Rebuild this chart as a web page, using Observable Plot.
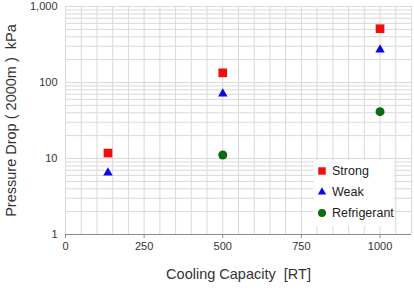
<!DOCTYPE html>
<html>
<head>
<meta charset="utf-8">
<script src="https://cdn.jsdelivr.net/npm/d3@7"></script>
<script src="https://cdn.jsdelivr.net/npm/@observablehq/plot@0.6"></script>
<style>
  html, body { margin: 0; padding: 0; background: #fff; }
  #chart { position: relative; width: 414px; height: 290px; font-family: "Liberation Sans", Arial, sans-serif; }
  #legend { position: absolute; left: 314px; top: 160px; width: 80px; height: 66px; background: #fff; font-size: 12.5px; color: #222; }
  #legend .row { position: absolute; left: 0; height: 16px; display: flex; align-items: center; }
  #legend svg { margin-left: 2px; margin-right: 4px; }
</style>
</head>
<body>
<div id="chart"><div id="legend"></div></div>
<script>
// Cooling capacity [RT] and pressure drop [kPa] per circuit
const capacity = [135, 500, 1000];
const strong = [11.8, 134, 510];
const weak = [6.5, 71, 270];
const refrigerant = [null, 11.1, 41.3];

const seriesNames = ["Strong", "Weak", "Refrigerant"];
const seriesValues = [strong, weak, refrigerant];
const seriesSymbols = ["square", "triangle", "circle"];
const seriesColors = ["#f20d0d", "#0a0ae6", "#0a6b14"];
const seriesSizes = [4.9, 3.5, 4.5];

const xTicks = [0, 250, 500, 750, 1000];
const yTicks = [1, 10, 100, 1000];

const rows = [];
seriesNames.forEach((name, i) => {
  capacity.forEach((c, j) => {
    const v = seriesValues[i][j];
    if (v != null) rows.push({series: name, capacity: c, drop: v});
  });
});

// Minor grid: every 50 RT, and 1..9 within each decade
const xGrid = d3.range(0, 1101, 50);
const yGrid = [];
for (let e = 0; e < 3; e++) for (let k = 1; k < 10; k++) yGrid.push(k * 10 ** e);
yGrid.push(1000);

const plot = Plot.plot({
  width: 414,
  height: 290,
  marginLeft: 65,
  marginRight: 3,
  marginTop: 6,
  marginBottom: 56,
  style: {fontFamily: "Liberation Sans, Arial, sans-serif", fontSize: "11px", color: "#333", background: "#fff"},
  x: {domain: [0, 1100]},
  y: {type: "log", domain: [1, 1000]},
  marks: [
    Plot.ruleX(xGrid, {stroke: "#d9d9d9", strokeWidth: 1}),
    Plot.ruleY(yGrid, {stroke: "#d9d9d9", strokeWidth: 1}),
    Plot.ruleY([1], {stroke: "#8c8c8c", strokeWidth: 1.2}),
    Plot.axisX({
      ticks: xTicks, tickSize: 4, tickPadding: 4, stroke: "#8c8c8c",
      tickFormat: d => String(d),
      label: "Cooling Capacity  [RT]", labelAnchor: "center", labelArrow: "none", labelOffset: 44
    }),
    Plot.axisY({
      ticks: yTicks, tickSize: 0, tickPadding: 8,
      tickFormat: d3.format(","),
      label: "Pressure Drop ( 2000m )  kPa", labelAnchor: "center", labelArrow: "none", labelOffset: 60
    }),
    ...seriesNames.map((name, i) =>
      Plot.dot(rows.filter(d => d.series === name), {
        x: "capacity", y: "drop",
        symbol: () => seriesSymbols[i], fill: seriesColors[i], r: seriesSizes[i], stroke: "none"
      })
    )
  ]
});

// Bigger axis titles
plot.querySelectorAll("[aria-label='x-axis label'] text, [aria-label='y-axis label'] text").forEach(t => {
  t.style.fontSize = "14.5px";
  t.style.whiteSpace = "pre";
  t.setAttribute("fill", "#333");
});

const chart = document.getElementById("chart");
chart.insertBefore(plot, chart.firstChild);

// Legend
const legend = document.getElementById("legend");
seriesNames.forEach((name, i) => {
  const row = document.createElement("div");
  row.className = "row";
  row.style.top = (3 + i * 21) + "px";
  const sym = d3.symbol(seriesSymbols[i] === "square" ? d3.symbolSquare : seriesSymbols[i] === "triangle" ? d3.symbolTriangle : d3.symbolCircle,
    [56, 30, 50][i])();
  row.innerHTML = `<svg width="12" height="12"><path transform="translate(6,6)" d="${sym}" fill="${seriesColors[i]}"/></svg><span>${name}</span>`;
  legend.appendChild(row);
});
</script>
</body>
</html>
